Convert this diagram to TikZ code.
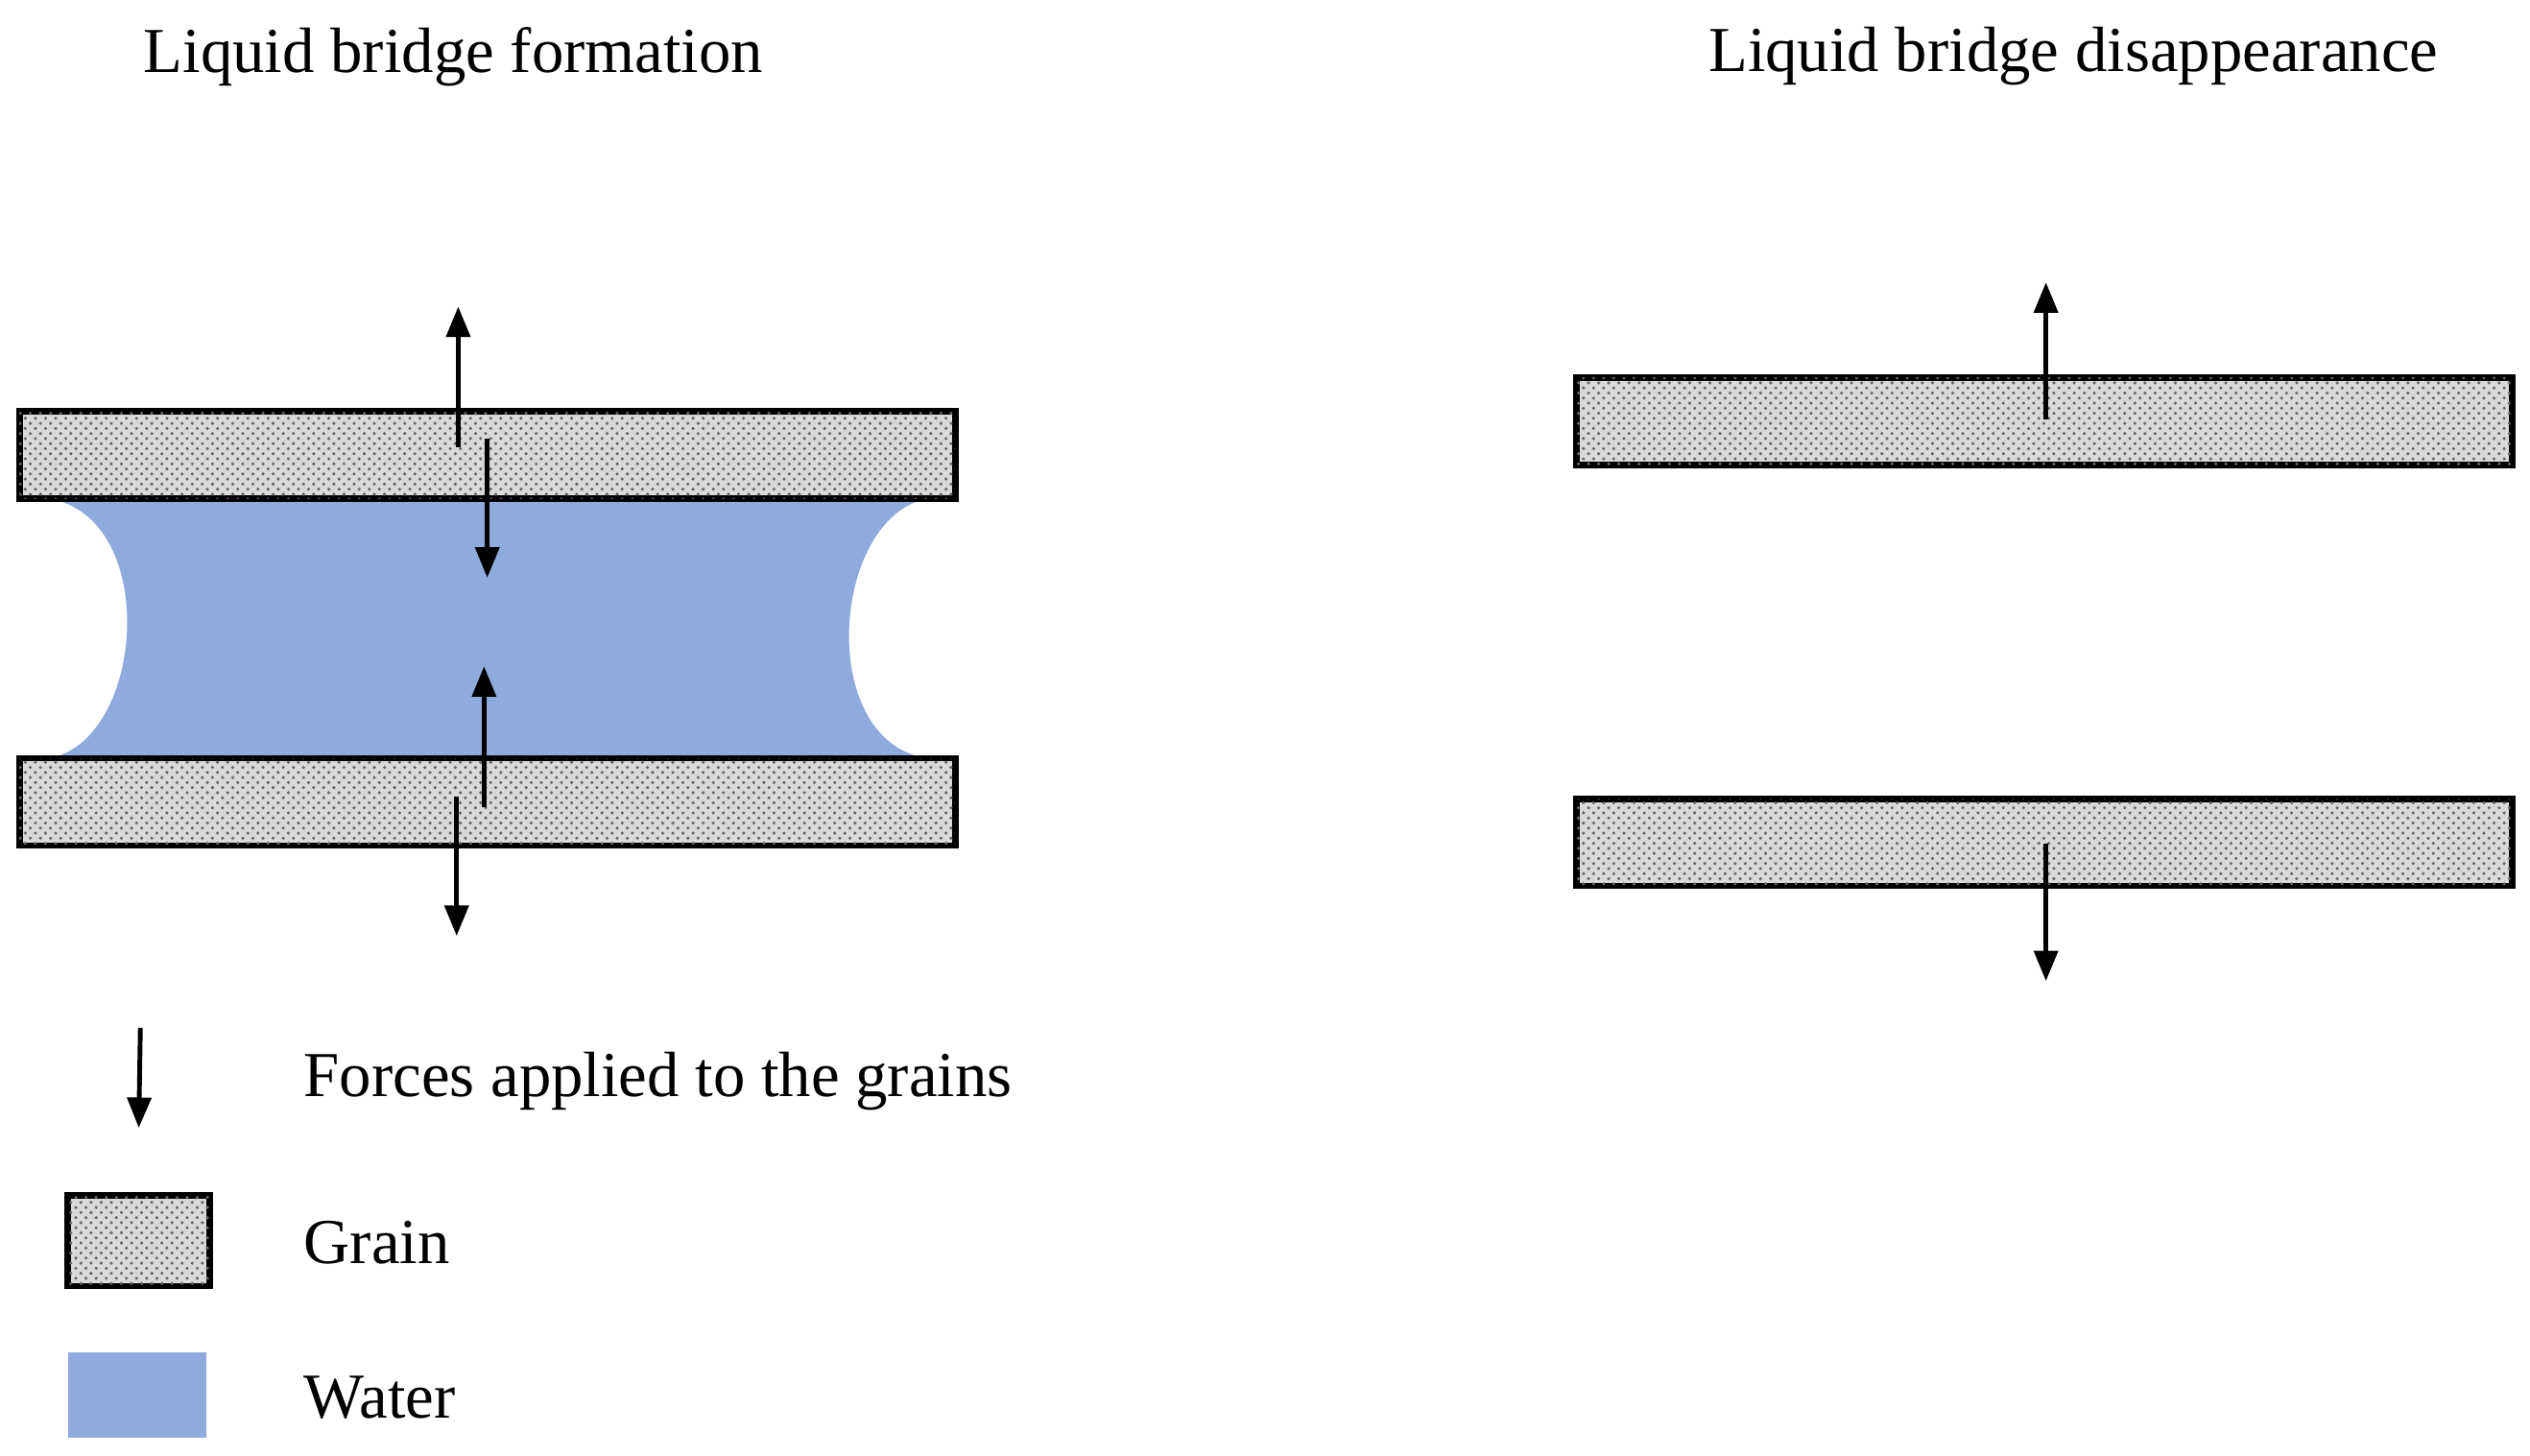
\documentclass[tikz,border=0pt]{standalone}
\usepackage{fontspec}
\setmainfont{Liberation Serif}
\usetikzlibrary{patterns,arrows.meta}
\definecolor{water}{HTML}{8FAADC}
\begin{document}
\begin{tikzpicture}[x=0.01681cm,y=-0.01681cm,
  grain/.style={draw=black,line width=1.9pt,fill=gray!30,postaction={pattern=crosshatch dots,pattern color=gray!80!black}},
  force/.style={line width=1.4pt,-{Triangle[length=9pt,width=7pt]}},
  lbl/.style={font=\fontsize{19}{22}\selectfont,inner sep=0pt}]
\useasboundingbox (0,0) rectangle (1568,902);
% water
\fill[water] (30,309) -- (575,309) .. controls (515,320) and (505,460) .. (575,470) -- (30,470) .. controls (90,460) and (100,320) .. (30,309) -- cycle;
\draw[grain] (12,255) rectangle (592,309);
\draw[grain] (12,470) rectangle (592,524);
\draw[grain] (977,234) rectangle (1557,288);
\draw[grain] (977,495) rectangle (1557,549);
\coordinate (a1) at (284,277); \coordinate (a2) at (284,190);
\coordinate (b1) at (302,272); \coordinate (b2) at (302,358);
\coordinate (c1) at (300,500); \coordinate (c2) at (300,413);
\coordinate (d1) at (283,494); \coordinate (d2) at (283,580);
\coordinate (e1) at (1268,260); \coordinate (e2) at (1268,175);
\coordinate (f1) at (1268,523); \coordinate (f2) at (1268,608);
\coordinate (g1) at (87,637); \coordinate (g2) at (86,699);
\foreach \p in {a,b,c,d,e,f,g} \draw[force] (\p1) -- (\p2);
\node[lbl] (t1) at (281,35) {Liquid bridge formation};
\node[lbl] (t2) at (1285,35) {Liquid bridge disappearance};
\draw[grain] (42,741) rectangle (130,797);
\fill[water] (42,838) rectangle (128,891);
\node[lbl,anchor=west] (l1) at (188,670) {Forces applied to the grains};
\node[lbl,anchor=west] (l2) at (188,770) {Grain};
\node[lbl,anchor=west] (l3) at (188,866) {Water};
\end{tikzpicture}
\end{document}
